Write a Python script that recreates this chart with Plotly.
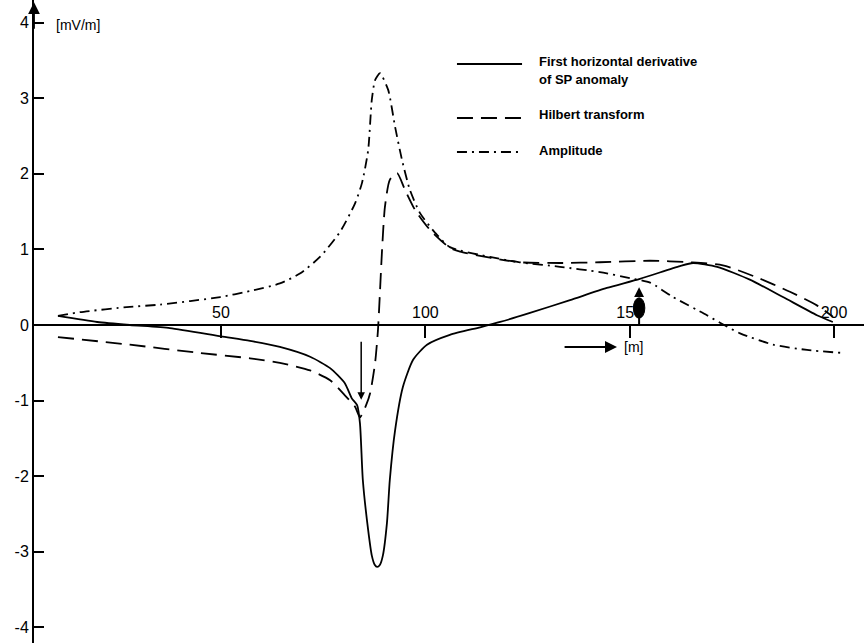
import plotly.graph_objects as go

# Profile distance [m] and first horizontal derivative of the SP anomaly [mV/m]
deriv_x = [10.1, 19.7, 27.7, 37.5, 50.0, 57.1, 64.4, 71.8, 76.7, 80.3, 82.0, 83.3,
           84.0, 84.7, 86.0, 86.9, 87.6, 88.2, 88.9, 89.6, 90.6, 91.3, 92.6, 94.5, 97.0, 100.4,
           106.0, 113.4, 118.3, 125.6, 135.4, 144.4, 152.5, 162.3, 165.5, 171.4,
           179.4, 187.5, 195.8, 199.7]
deriv_y = [0.12, 0.04, 0.00, -0.04, -0.15, -0.21, -0.29, -0.42, -0.57, -0.77, -0.97, -1.06,
           -1.30, -2.05, -2.71, -3.05, -3.17, -3.20, -3.17, -3.05, -2.62, -2.05, -1.39, -0.82,
           -0.46, -0.26,
           -0.13, -0.03, 0.04, 0.16, 0.33, 0.49, 0.61, 0.78, 0.82, 0.77,
           0.60, 0.37, 0.13, 0.04]

# Hilbert transform of the derivative [mV/m]
hilbert_x = [10.1, 27.7, 44.9, 57.1, 64.4, 71.8, 76.7, 80.3, 82.8, 84.0, 85.5, 86.5,
             87.7, 88.4, 89.4, 90.1, 91.3, 93.1, 95.0, 97.5, 101.1, 106.0, 108.5, 115.8,
             123.1, 132.9, 142.7, 155.0, 164.7, 172.8, 181.1, 189.2, 195.8, 199.7]
hilbert_y = [-0.16, -0.26, -0.37, -0.44, -0.50, -0.60, -0.73, -0.93, -1.08, -1.22, -1.06, -0.90,
             -0.50, -0.07, 0.99, 1.56, 1.92, 2.01, 1.79, 1.52, 1.26, 1.02, 0.97, 0.89,
             0.83, 0.82, 0.83, 0.85, 0.83, 0.79, 0.63, 0.44, 0.26, 0.11]

# Amplitude of the analytic signal [mV/m]
amp_x = [10.1, 15.5, 27.7, 35.1, 49.8, 57.1, 64.4, 69.3, 74.2, 79.1, 82.8, 84.5, 86.0,
         86.9, 87.7, 88.9, 90.9, 92.6, 94.3, 96.2, 98.7, 102.4, 106.0, 115.8, 123.1,
         132.9, 142.7, 150.1, 155.0, 160.6, 168.9, 172.1, 177.0, 185.1, 193.4, 202.2]
amp_y = [0.12, 0.17, 0.24, 0.27, 0.37, 0.45, 0.55, 0.68, 0.90, 1.23, 1.61, 1.88, 2.31,
         2.98, 3.24, 3.33, 3.11, 2.62, 2.18, 1.79, 1.48, 1.22, 1.03, 0.90, 0.83,
         0.77, 0.70, 0.62, 0.56, 0.37, 0.13, 0.03, -0.11, -0.26, -0.33, -0.37]

x_ticks = [50, 100, 150, 200]
x_ticktext = ["50", "100", "150", "200"]
y_ticks = [-4, -3, -2, -1, 0, 1, 2, 3, 4]
y_ticktext = ["-4", "-3", "-2", "-1", "0", "1", "2", "3", "4"]

legend_labels = ["First horizontal derivative", "of SP anomaly", "Hilbert transform", "Amplitude"]

X_RANGE = [4.24, 207.33]
Y_RANGE = [-4.206, 4.299]
zero_pos = (0 - Y_RANGE[0]) / (Y_RANGE[1] - Y_RANGE[0])

INK = "black"
FONT = "Liberation Sans"
DASH = "16px,8px"
DASHDOT = "10px,5px,2px,5px"

fig = go.Figure()
line_style = dict(color=INK, width=1.8, shape="spline", smoothing=0.6)
fig.add_trace(go.Scatter(x=deriv_x, y=deriv_y, mode="lines",
                         line=dict(**line_style), name=legend_labels[0], showlegend=False))
fig.add_trace(go.Scatter(x=hilbert_x, y=hilbert_y, mode="lines",
                         line=dict(**line_style, dash=DASH), name=legend_labels[2], showlegend=False))
fig.add_trace(go.Scatter(x=amp_x, y=amp_y, mode="lines",
                         line=dict(**line_style, dash=DASHDOT), name=legend_labels[3], showlegend=False))

shapes = []
annotations = []

# Key in the upper right: line samples and labels
key_rows = [(0.9005, None, 0.9036, [legend_labels[0], legend_labels[1]]),
            (0.8165, DASH, 0.8212, [legend_labels[2]]),
            (0.7636, DASHDOT, 0.7667, [legend_labels[3]])]
for ly, dash, ty, labels in key_rows:
    shapes.append(dict(type="line", xref="paper", yref="paper",
                       x0=0.5096, x1=0.5880, y0=ly, y1=ly,
                       line=dict(color=INK, width=2, dash=dash or "solid")))
    for k, lab in enumerate(labels):
        annotations.append(dict(xref="paper", yref="paper", x=0.6060, y=ty - k * 0.028,
                                text="<b>" + lab + "</b>", showarrow=False,
                                xanchor="left", yanchor="middle",
                                font=dict(family=FONT, size=13, color=INK)))

# Unit of the vertical axis and arrowhead at its top
annotations.append(dict(x=9.2, y=3.97, text="[mV/m]", showarrow=False, xanchor="left",
                        yanchor="middle", font=dict(family=FONT, size=14, color=INK)))
annotations.append(dict(x=X_RANGE[0], y=4.27, ax=X_RANGE[0], ay=3.9, xref="x", yref="y",
                        axref="x", ayref="y", text="", showarrow=True, arrowhead=2,
                        arrowsize=1.3, arrowwidth=1.8, arrowcolor=INK))

# Arrow marking the trough position
annotations.append(dict(x=84.3, y=-0.99, ax=84.3, ay=-0.20, xref="x", yref="y",
                        axref="x", ayref="y", text="", showarrow=True, arrowhead=2,
                        arrowsize=1, arrowwidth=1.5, arrowcolor=INK))

# Source position marker near 150 m
src_x = 152.3
shapes.append(dict(type="circle", xref="x", yref="y", x0=src_x - 1.4, x1=src_x + 1.4,
                   y0=0.09, y1=0.36, fillcolor=INK, line=dict(color=INK, width=1),
                   layer="above"))
shapes.append(dict(type="line", xref="x", yref="y", x0=src_x, x1=src_x, y0=0, y1=0.12,
                   line=dict(color=INK, width=2), layer="above"))
annotations.append(dict(x=src_x, y=0.50, ax=src_x, ay=0.35, xref="x", yref="y",
                        axref="x", ayref="y", text="", showarrow=True, arrowhead=2,
                        arrowsize=1.1, arrowwidth=1.8, arrowcolor=INK))

# Direction of the profile and its unit
annotations.append(dict(x=146.9, y=-0.29, ax=133.7, ay=-0.29, xref="x", yref="y",
                        axref="x", ayref="y", text="", showarrow=True, arrowhead=2,
                        arrowsize=1.2, arrowwidth=2, arrowcolor=INK))
annotations.append(dict(x=148.1, y=-0.29, text="[m]", showarrow=False, xanchor="left",
                        yanchor="middle", font=dict(family=FONT, size=14, color=INK)))

fig.update_layout(
    width=864, height=643,
    margin=dict(l=34, r=0, t=0, b=0, pad=0),
    paper_bgcolor="white", plot_bgcolor="white",
    showlegend=False,
    shapes=shapes, annotations=annotations,
    xaxis=dict(range=X_RANGE, side="top", anchor="free", position=zero_pos,
               showline=True, linecolor=INK, linewidth=2,
               ticks="inside", ticklen=12, tickwidth=1.8, tickcolor=INK,
               tickvals=x_ticks, ticktext=x_ticktext,
               tickfont=dict(family=FONT, size=16, color=INK),
               showgrid=False, zeroline=False, fixedrange=True),
    yaxis=dict(range=Y_RANGE, showline=True, linecolor=INK, linewidth=2,
               ticks="inside", ticklen=10, tickwidth=1.8, tickcolor=INK,
               tickvals=y_ticks, ticktext=y_ticktext,
               tickfont=dict(family=FONT, size=16, color=INK),
               showgrid=False, zeroline=False, fixedrange=True),
)

fig.write_html("out.html")
